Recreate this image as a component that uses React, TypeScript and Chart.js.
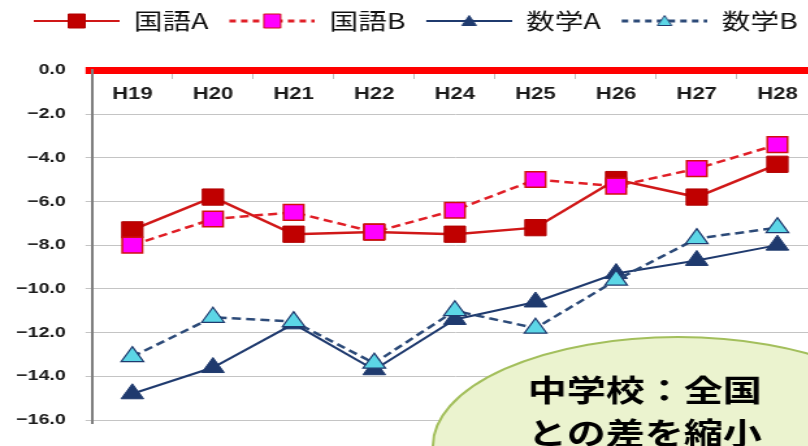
import { useEffect, useRef } from 'react';
import { Chart, registerables } from 'chart.js';

Chart.register(...registerables);

// ---- data ----
const categories = ['H19', 'H20', 'H21', 'H22', 'H24', 'H25', 'H26', 'H27', 'H28'];
const seriesNames = ['国語A', '国語B', '数学A', '数学B'];
const kokugoA = [-7.3, -5.8, -7.5, -7.4, -7.5, -7.2, -5.0, -5.8, -4.3];
const kokugoB = [-8.0, -6.8, -6.5, -7.4, -6.4, -5.0, -5.3, -4.5, -3.4];
const sugakuA = [-14.8, -13.6, -11.6, -13.7, -11.4, -10.6, -9.3, -8.7, -8.0];
const sugakuB = [-13.1, -11.3, -11.5, -13.4, -11.0, -11.8, -9.6, -7.7, -7.2];
const yTicks = [0, -2, -4, -6, -8, -10, -12, -14, -16];
const noteLines = ['中学校：全国', 'との差を縮小'];

// ---- styles ----
const STRETCH = 1.3;
const CANVAS_W = 645;
const CANVAS_H = 446;
const LATIN = '"Liberation Sans", Arial, sans-serif';
const CJK = '"Noto Sans CJK JP", "Noto Sans", sans-serif';

type IconOpts = {
  line: string;
  dash: number[];
  lineWidth: number;
  shape: 'rect' | 'triangle';
  fill: string;
  stroke: string;
};

function makeLegendIcon(o: IconOpts) {
  const W = 80, H = 22, a = 14, L = 66;
  const c = document.createElement('canvas');
  c.width = W;
  c.height = H;
  const g = c.getContext('2d')!;
  g.strokeStyle = o.line;
  g.lineWidth = o.lineWidth;
  g.setLineDash(o.dash);
  g.beginPath();
  g.moveTo(a, H / 2);
  g.lineTo(a + L, H / 2);
  g.stroke();
  g.setLineDash([]);
  const cx = a + L / 2, cy = H / 2;
  g.fillStyle = o.fill;
  g.strokeStyle = o.stroke;
  g.lineWidth = 1;
  g.beginPath();
  if (o.shape === 'rect') {
    g.rect(cx - 6.5, cy - 7, 13, 14);
  } else {
    g.moveTo(cx, cy - 5.5);
    g.lineTo(cx + 5.5, cy + 4.5);
    g.lineTo(cx - 5.5, cy + 4.5);
    g.closePath();
  }
  g.fill();
  g.stroke();
  return c;
}

const legendSpacer = {
  id: 'legendSpacer',
  beforeLayout(chart: any) {
    const lg = chart.legend;
    if (lg && !lg.__patched) {
      const orig = lg.fit.bind(lg);
      lg.fit = function () {
        orig();
        this.height = 62.3;
      };
      lg.__patched = true;
    }
  },
};

const notePlugin = {
  id: 'note',
  afterDraw(chart: any) {
    const { ctx } = chart;
    ctx.save();
    ctx.beginPath();
    ctx.ellipse(521.5, 446, 188.5, 109, 0, 0, Math.PI * 2);
    ctx.fillStyle = '#ebf3cf';
    ctx.fill();
    ctx.lineWidth = 2;
    ctx.strokeStyle = '#a3bf5c';
    ctx.stroke();
    ctx.font = `bold 30px ${CJK}`;
    ctx.fillStyle = '#000';
    ctx.textAlign = 'center';
    ctx.textBaseline = 'middle';
    noteLines.forEach((t, i) => ctx.fillText(t, 496, 390 + i * 43));
    ctx.restore();
  },
};

export default function App() {
  const ref = useRef<HTMLCanvasElement>(null);

  useEffect(() => {
    const canvas = ref.current;
    if (!canvas) return;
    const icons = [
      makeLegendIcon({ line: '#d01818', dash: [], lineWidth: 2, shape: 'rect', fill: '#c00000', stroke: '#b00000' }),
      makeLegendIcon({ line: '#e01e26', dash: [5, 4], lineWidth: 3, shape: 'rect', fill: '#ff00ff', stroke: '#d01010' }),
      makeLegendIcon({ line: '#1f3a6e', dash: [], lineWidth: 2, shape: 'triangle', fill: '#1f3a6e', stroke: '#1f3a6e' }),
      makeLegendIcon({ line: '#2c4a78', dash: [5, 4], lineWidth: 3, shape: 'triangle', fill: '#5cd6e6', stroke: '#1f3a6e' }),
    ];

    const chart = new Chart(canvas, {
      type: 'line',
      data: {
        labels: categories,
        datasets: [
          {
            label: seriesNames[0], data: kokugoA, borderColor: '#d01818', borderWidth: 2.5,
            pointStyle: 'rect', pointRadius: 11.5, pointBackgroundColor: '#c00000',
            pointBorderColor: '#b00000', pointBorderWidth: 1, tension: 0, order: 4,
          },
          {
            label: seriesNames[1], data: kokugoB, borderColor: '#e01e26', borderWidth: 2.5,
            borderDash: [7, 4], pointStyle: 'rect', pointRadius: 11, pointBackgroundColor: '#ff00ff',
            pointBorderColor: '#d01010', pointBorderWidth: 1.5, tension: 0, order: 3,
          },
          {
            label: seriesNames[2], data: sugakuA, borderColor: '#1f3a6e', borderWidth: 2,
            pointStyle: 'triangle', pointRadius: 10, pointBackgroundColor: '#1f3a6e',
            pointBorderColor: '#1f3a6e', pointBorderWidth: 1, tension: 0, order: 2,
          },
          {
            label: seriesNames[3], data: sugakuB, borderColor: '#2c4a78', borderWidth: 2.5,
            borderDash: [7, 4], pointStyle: 'triangle', pointRadius: 10, pointBackgroundColor: '#5cd6e6',
            pointBorderColor: '#1f3a6e', pointBorderWidth: 1.2, tension: 0, order: 1,
          },
        ] as any,
      },
      options: {
        responsive: false,
        animation: false,
        devicePixelRatio: 1,
        layout: { padding: { top: 8, left: 10, right: 16, bottom: 26 } },
        plugins: {
          tooltip: { enabled: false },
          legend: {
            display: true,
            position: 'top',
            align: 'start',
            labels: {
              usePointStyle: true,
              pointStyleWidth: 80,
              padding: 2,
              color: '#111',
              font: { family: CJK, size: 22 },
              generateLabels: (ch: any) =>
                ch.data.datasets.map((ds: any, i: number) => ({
                  text: ds.label,
                  pointStyle: icons[i],
                  fillStyle: 'rgba(0,0,0,0)',
                  strokeStyle: 'rgba(0,0,0,0)',
                  lineWidth: 0,
                  hidden: false,
                  datasetIndex: i,
                  fontColor: '#111',
                })),
            },
          },
        },
        scales: {
          x: {
            type: 'category',
            position: { y: 0 } as any,
            offset: true,
            z: 1,
            grid: {
              display: true, drawOnChartArea: false, drawTicks: true, tickLength: 5,
              color: '#bdbdbd', offset: true,
            },
            border: { display: true, color: '#ff0000', width: 7 },
            ticks: {
              color: '#1b1b1b', padding: 8.5, maxRotation: 0, autoSkip: false,
              font: { family: LATIN, size: 17, weight: 'bold' },
            },
          },
          y: {
            type: 'linear',
            min: -16,
            max: 0,
            afterBuildTicks: (s: any) => {
              s.ticks = yTicks.map((v) => ({ value: v }));
            },
            afterFit: (s: any) => {
              s.width = 60.8;
            },
            grid: {
              color: (c: any) => (c.tick && c.tick.value === 0 ? '#ff0000' : '#c4c4c4'),
              lineWidth: (c: any) => (c.tick && c.tick.value === 0 ? 7 : 1),
              tickLength: 5,
            },
            border: { display: true, color: '#7f7f7f', width: 2 },
            ticks: {
              padding: 15.3,
              color: '#1b1b1b',
              font: { family: LATIN, size: 15, weight: 'bold' },
              callback: (v: any) => Number(v).toFixed(1).replace('-', '−'),
            },
          },
        },
      } as any,
      plugins: [legendSpacer, notePlugin] as any,
    });

    return () => chart.destroy();
  }, []);

  return (
    <div
      style={{
        position: 'fixed', left: 0, top: 0, width: 808, height: 446,
        overflow: 'hidden', background: '#fff',
      }}
    >
      <div style={{ width: CANVAS_W, height: CANVAS_H, transform: `scaleX(${STRETCH})`, transformOrigin: '0 0' }}>
        <canvas ref={ref} width={CANVAS_W} height={CANVAS_H} style={{ display: 'block' }} />
      </div>
    </div>
  );
}
